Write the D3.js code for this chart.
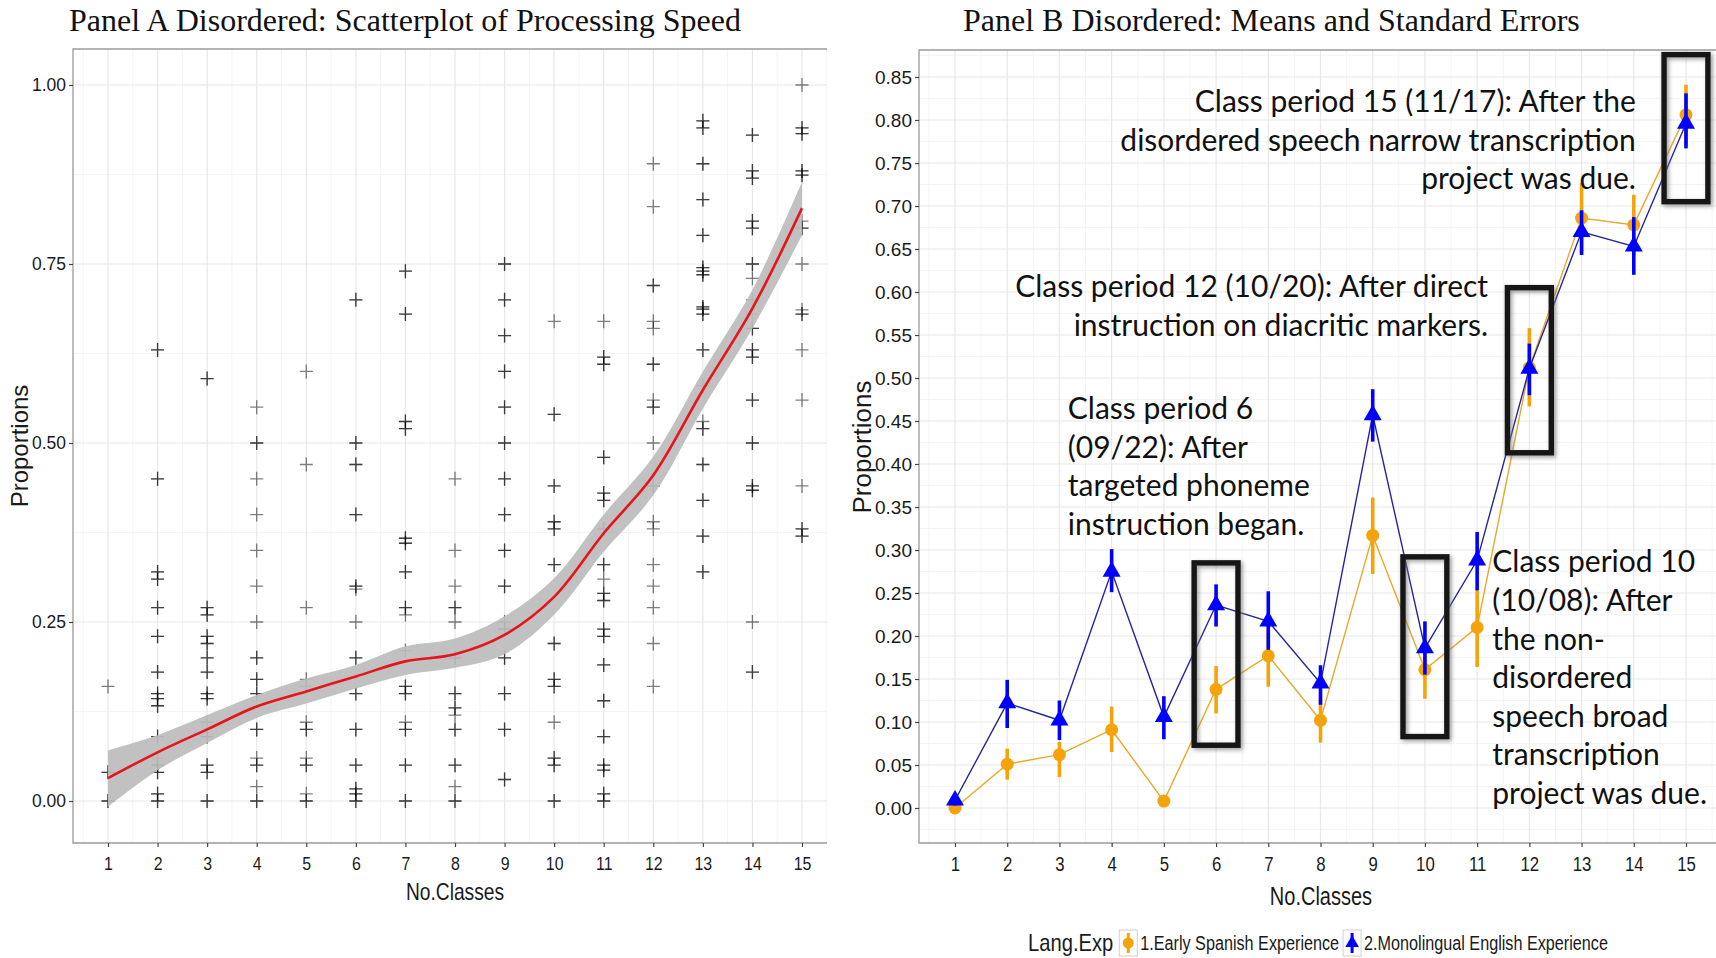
<!DOCTYPE html>
<html>
<head>
<meta charset="utf-8">
<script src="https://cdn.jsdelivr.net/npm/d3@7"></script>
<style>
  body { margin: 0; background: #fff; }
  svg { display: block; }
  .sans { font-family: "Liberation Sans", Arial, sans-serif; }
  .title { font-family: "Liberation Serif", "Times New Roman", serif; }
  .note { font-family: Lato, "Open Sans", sans-serif; }
</style>
</head>
<body>
<svg id="chart" width="1716" height="958"></svg>
<script>
var classes = d3.range(1, 16);

// Panel A: proportions per class, [value, how many students overlap there]
var speedA = [
  [[0.16,1],[0.04,2],[0,2]],
  [[0.63,2],[0.45,2],[0.32,2],[0.31,2],[0.27,2],[0.23,2],[0.18,2],[0.15,2],[0.143,2],[0.133,2],[0.09,2],[0.06,1],[0.05,2],[0.04,2],[0.01,2],[0,2]],
  [[0.59,2],[0.27,2],[0.26,2],[0.23,2],[0.22,2],[0.20,2],[0.18,2],[0.15,2],[0.143,2],[0.11,1],[0.09,2],[0.05,2],[0.04,2],[0,2]],
  [[0.55,1],[0.50,2],[0.45,1],[0.40,1],[0.35,1],[0.30,1],[0.25,1],[0.20,2],[0.17,2],[0.15,2],[0.10,2],[0.06,1],[0.05,2],[0.02,1],[0,2]],
  [[0.60,1],[0.47,1],[0.27,1],[0.17,1],[0.16,1],[0.11,1],[0.10,2],[0.06,1],[0.05,2],[0.01,1],[0,2]],
  [[0.70,2],[0.50,2],[0.47,2],[0.40,2],[0.30,2],[0.296,1],[0.25,1],[0.20,2],[0.15,2],[0.10,2],[0.05,2],[0.017,2],[0.01,2],[0,2]],
  [[0.74,2],[0.68,2],[0.53,2],[0.52,2],[0.367,2],[0.36,2],[0.32,2],[0.27,2],[0.26,1],[0.21,1],[0.16,2],[0.15,2],[0.11,1],[0.10,2],[0.05,2],[0,2]],
  [[0.45,1],[0.35,1],[0.30,1],[0.27,2],[0.25,1],[0.20,2],[0.15,2],[0.13,2],[0.12,1],[0.10,2],[0.05,2],[0.02,1],[0,2]],
  [[0.75,2],[0.70,2],[0.65,2],[0.60,2],[0.55,2],[0.50,2],[0.45,2],[0.40,2],[0.35,2],[0.30,2],[0.25,1],[0.24,2],[0.20,2],[0.15,2],[0.10,2],[0.03,2]],
  [[0.67,1],[0.54,2],[0.44,2],[0.39,2],[0.38,2],[0.33,2],[0.22,2],[0.17,2],[0.16,2],[0.11,1],[0.06,2],[0.05,2],[0,2]],
  [[0.67,1],[0.62,2],[0.61,2],[0.48,2],[0.43,2],[0.42,2],[0.38,2],[0.33,2],[0.31,1],[0.29,2],[0.28,2],[0.24,2],[0.23,2],[0.19,2],[0.14,2],[0.09,2],[0.05,2],[0.043,2],[0.01,2],[0,2]],
  [[0.89,1],[0.83,1],[0.72,2],[0.67,1],[0.66,1],[0.61,2],[0.56,1],[0.55,2],[0.50,1],[0.44,2],[0.39,1],[0.38,1],[0.33,1],[0.30,1],[0.27,1],[0.22,1],[0.16,1]],
  [[0.95,2],[0.94,2],[0.89,2],[0.84,2],[0.79,2],[0.745,2],[0.74,2],[0.735,2],[0.69,2],[0.687,2],[0.68,2],[0.63,2],[0.58,1],[0.53,1],[0.52,2],[0.47,2],[0.42,2],[0.37,2],[0.32,2]],
  [[0.93,2],[0.88,2],[0.87,2],[0.81,2],[0.80,2],[0.75,2],[0.73,1],[0.70,1],[0.68,1],[0.66,2],[0.63,2],[0.62,2],[0.56,2],[0.50,2],[0.44,2],[0.434,2],[0.25,1],[0.18,2]],
  [[1.00,1],[0.94,2],[0.932,2],[0.88,2],[0.874,2],[0.81,1],[0.80,2],[0.75,1],[0.686,1],[0.68,2],[0.63,1],[0.56,1],[0.44,1],[0.38,2],[0.37,2]]
];

// loess fit and its confidence band
var fitMid = [0.032, 0.068, 0.100, 0.132, 0.153, 0.174, 0.195, 0.205, 0.232, 0.285, 0.374, 0.455, 0.574, 0.688, 0.828];
var fitLo  = [-0.008, 0.043, 0.081, 0.116, 0.136, 0.157, 0.176, 0.186, 0.205, 0.260, 0.348, 0.427, 0.548, 0.660, 0.790];
var fitHi  = [0.071, 0.092, 0.120, 0.148, 0.171, 0.190, 0.216, 0.227, 0.258, 0.311, 0.400, 0.481, 0.600, 0.714, 0.865];

// Panel B: means and standard errors
var spanishMean = [0.000, 0.051, 0.062, 0.091, 0.008, 0.138, 0.177, 0.102, 0.317, 0.161, 0.210, 0.512, 0.686, 0.678, 0.806];
var spanishLo   = [-0.004, 0.033, 0.036, 0.065, 0.004, 0.110, 0.141, 0.076, 0.272, 0.127, 0.164, 0.467, 0.645, 0.643, 0.771];
var spanishHi   = [0.004, 0.069, 0.077, 0.118, 0.012, 0.165, 0.214, 0.128, 0.361, 0.195, 0.253, 0.558, 0.727, 0.713, 0.841];
var englishMean = [0.009, 0.122, 0.102, 0.275, 0.106, 0.236, 0.217, 0.145, 0.457, 0.186, 0.288, 0.511, 0.670, 0.653, 0.796];
var englishLo   = [0.003, 0.093, 0.079, 0.251, 0.080, 0.211, 0.184, 0.120, 0.426, 0.155, 0.253, 0.480, 0.643, 0.620, 0.767];
var englishHi   = [0.015, 0.149, 0.125, 0.301, 0.130, 0.260, 0.252, 0.166, 0.487, 0.217, 0.321, 0.540, 0.695, 0.687, 0.831];

var boxClass = [6, 10, 12, 15];
var boxLo = [0.073, 0.083, 0.413, 0.705];
var boxHi = [0.285, 0.292, 0.605, 0.876];

var groups = ["1.Early Spanish Experience", "2.Monolingual English Experience"];
var yTicksA = [0, 0.25, 0.5, 0.75, 1];
var yTicksB = d3.range(0, 18).map(function(i) { return i * 0.05; });

var notes = [
  { x: 14.04, y: 0.809, anchor: "end",   lines: ["Class period 15 (11/17): After the", "disordered speech narrow transcription", "project was due."] },
  { x: 11.21, y: 0.594, anchor: "end",   lines: ["Class period 12 (10/20): After direct", "instruction on diacritic markers."] },
  { x: 3.16,  y: 0.452, anchor: "start", lines: ["Class period 6", "(09/22): After", "targeted phoneme", "instruction began."] },
  { x: 11.29, y: 0.274, anchor: "start", lines: ["Class period 10", "(10/08): After", "the non-", "disordered", "speech broad", "transcription", "project was due."] }
];

var orange = "#f4a30b", orangeLine = "#e6a92c", blue = "#0000ff", blueLine = "#25259a";

var svg = d3.select("#chart");

// squeeze text horizontally (the original uses a condensed face)
function condense(sel, f) {
  sel.each(function() {
    var w = this.getComputedTextLength();
    d3.select(this).attr("textLength", w * f).attr("lengthAdjust", "spacingAndGlyphs");
  });
  return sel;
}

var defs = svg.append("defs");
var sh = defs.append("filter").attr("id", "shadow").attr("x", "-30%").attr("y", "-30%").attr("width", "160%").attr("height", "160%");
sh.append("feDropShadow").attr("dx", 2).attr("dy", 2).attr("stdDeviation", 2).attr("flood-color", "#777").attr("flood-opacity", 0.7);

var xA = d3.scaleLinear().domain([1, 15]).range([108, 802]);
var yA = d3.scaleLinear().domain([0, 1]).range([801, 85]);
var boxA = { l: 73, r: 827, t: 49, b: 843 };

var xB = d3.scaleLinear().domain([1, 15]).range([955, 1686]);
var yB = d3.scaleLinear().domain([0, 0.85]).range([808, 77]);
var boxB = { l: 919, r: 1716, t: 50, b: 843 };

function drawFrame(x, y, box, yTicks, step, tickFont, xFont) {
  var g = svg.append("g");
  var inY = function(v) { var p = y(v); return p >= box.t && p <= box.b; };
  var inX = function(v) { var p = x(v); return p >= box.l && p <= box.r; };
  // minor grid
  var minorY = d3.range(-2, yTicks.length + 1).map(function(i) { return (i + 0.5) * step; }).filter(inY);
  var minorX = d3.range(0, 17).map(function(i) { return i + 0.5; }).filter(inX);
  g.selectAll(".mny").data(minorY).enter().append("line")
    .attr("x1", box.l).attr("x2", box.r).attr("y1", y).attr("y2", y)
    .attr("stroke", "#f4f4f4").attr("stroke-width", 1);
  g.selectAll(".mnx").data(minorX).enter().append("line")
    .attr("x1", x).attr("x2", x).attr("y1", box.t).attr("y2", box.b)
    .attr("stroke", "#f4f4f4").attr("stroke-width", 1);
  g.selectAll(".mjy").data(yTicks).enter().append("line")
    .attr("x1", box.l).attr("x2", box.r).attr("y1", y).attr("y2", y)
    .attr("stroke", "#e8e8e8").attr("stroke-width", 1.2);
  g.selectAll(".mjx").data(classes).enter().append("line")
    .attr("x1", x).attr("x2", x).attr("y1", box.t).attr("y2", box.b)
    .attr("stroke", "#e8e8e8").attr("stroke-width", 1.2);

  // border
  g.append("path")
    .attr("d", "M" + box.r + "," + box.t + "H" + box.l + "V" + box.b + "H" + box.r)
    .attr("fill", "none").attr("stroke", "#9a9a9a").attr("stroke-width", 1.3);

  var ax = g.append("g").attr("transform", "translate(0," + box.b + ")")
    .call(d3.axisBottom(x).tickValues(classes).tickFormat(d3.format("d")).tickSize(4).tickPadding(10));
  var ay = g.append("g").attr("transform", "translate(" + box.l + ",0)")
    .call(d3.axisLeft(y).tickValues(yTicks).tickFormat(d3.format(".2f")).tickSize(4).tickPadding(3));
  [ax, ay].forEach(function(a) {
    a.select(".domain").remove();
    a.selectAll(".tick line").attr("stroke", "#444").attr("stroke-width", 1.2);
    a.selectAll("text").attr("class", "sans").attr("fill", "#1a1a1a").attr("font-family", null)
      .style("font-size", tickFont + "px");
  });
  ax.selectAll("text").style("font-size", xFont + "px");
  condense(ax.selectAll("text"), 0.86);
  return g;
}

// ---------- Panel A ----------
drawFrame(xA, yA, boxA, yTicksA, 0.25, 17.5, 18.5);

var pA = svg.append("g");
var band = d3.area().x(function(d, i) { return xA(classes[i]); })
  .y0(function(d, i) { return yA(fitLo[i]); })
  .y1(function(d, i) { return yA(fitHi[i]); })
  .curve(d3.curveCatmullRom);

var marks = [];
speedA.forEach(function(vals, i) {
  vals.forEach(function(p) {
    for (var k = 0; k < p[1]; k++) marks.push({ c: classes[i], v: p[0] });
  });
});
pA.selectAll(".pt").data(marks).enter().append("path")
  .attr("transform", function(d) { return "translate(" + xA(d.c) + "," + yA(d.v) + ")"; })
  .attr("d", "M-6.5,0H6.5M0,-7V7")
  .attr("stroke", "#000").attr("stroke-opacity", 0.5).attr("stroke-width", 1.3).attr("fill", "none");

pA.append("path").datum(fitMid).attr("d", band).attr("fill", "#bcbcbc").attr("fill-opacity", 0.92);
pA.append("path").datum(fitMid)
  .attr("d", d3.line().x(function(d, i) { return xA(classes[i]); }).y(function(d) { return yA(d); }).curve(d3.curveCatmullRom))
  .attr("fill", "none").attr("stroke", "#e8141b").attr("stroke-width", 2.6);

svg.append("text").attr("class", "title").attr("x", 69).attr("y", 31)
  .style("font-size", "32px").attr("fill", "#111")
  .text("Panel A Disordered: Scatterplot of Processing Speed");
condense(svg.append("text").attr("class", "sans").attr("x", (boxA.l + boxA.r) / 2 + 5).attr("y", 900)
  .attr("text-anchor", "middle").style("font-size", "24px").attr("fill", "#1a1a1a").text("No.Classes"), 0.8);
svg.append("text").attr("class", "sans").attr("transform", "translate(28,446) rotate(-90)")
  .attr("text-anchor", "middle").style("font-size", "24px").attr("fill", "#1a1a1a").text("Proportions");

// ---------- Panel B ----------
drawFrame(xB, yB, boxB, yTicksB, 0.05, 19, 19.5);

var pB = svg.append("g");
function series(mean, lo, hi, lineCol, col) {
  var line = d3.line().x(function(d, i) { return xB(classes[i]); }).y(function(d) { return yB(d); });
  var g = pB.append("g");
  g.append("path").datum(mean).attr("d", line).attr("fill", "none").attr("stroke", lineCol).attr("stroke-width", 1.4);
  g.selectAll(".eb").data(mean).enter().append("line")
    .attr("x1", function(d, i) { return xB(classes[i]); })
    .attr("x2", function(d, i) { return xB(classes[i]); })
    .attr("y1", function(d, i) { return yB(lo[i]); })
    .attr("y2", function(d, i) { return yB(hi[i]); })
    .attr("stroke", col).attr("stroke-width", 3.6);
  return g;
}
var gS = series(spanishMean, spanishLo, spanishHi, orangeLine, orange);
var gE = series(englishMean, englishLo, englishHi, blueLine, blue);
gS.selectAll(".pt").data(spanishMean).enter().append("circle")
  .attr("cx", function(d, i) { return xB(classes[i]); }).attr("cy", function(d) { return yB(d); })
  .attr("r", 6.5).attr("fill", orange);
gE.selectAll(".pt").data(englishMean).enter().append("path")
  .attr("transform", function(d, i) { return "translate(" + xB(classes[i]) + "," + yB(d) + ")"; })
  .attr("d", d3.symbol().type(d3.symbolTriangle).size(140)).attr("fill", blue);

// highlight boxes
pB.selectAll(".hb").data(boxClass).enter().append("rect")
  .attr("x", function(d) { return xB(d - 0.42); })
  .attr("width", function() { return xB(1.84) - xB(1); })
  .attr("y", function(d, i) { return yB(boxHi[i]); })
  .attr("height", function(d, i) { return yB(boxLo[i]) - yB(boxHi[i]); })
  .attr("fill", "none").attr("stroke", "#161616").attr("stroke-width", 5.5)
  .attr("filter", "url(#shadow)");

// annotations
notes.forEach(function(n) {
  var t = svg.append("text").attr("class", "note").attr("text-anchor", n.anchor)
    .style("font-size", "30px").attr("fill", "#111");
  n.lines.forEach(function(s, k) {
    t.append("tspan").attr("x", xB(n.x)).attr("y", yB(n.y) + k * 38.6).text(s);
  });
});

svg.append("text").attr("class", "title").attr("x", 963).attr("y", 31)
  .style("font-size", "32px").attr("fill", "#111")
  .text("Panel B Disordered: Means and Standard Errors");
condense(svg.append("text").attr("class", "sans").attr("x", 1321).attr("y", 905)
  .attr("text-anchor", "middle").style("font-size", "25px").attr("fill", "#1a1a1a").text("No.Classes"), 0.8);
svg.append("text").attr("class", "sans").attr("transform", "translate(871,447) rotate(-90)")
  .attr("text-anchor", "middle").style("font-size", "26px").attr("fill", "#1a1a1a").text("Proportions");

// legend
var lg = svg.append("g");
var lt = condense(lg.append("text").attr("class", "sans").attr("y", 951).style("font-size", "24px")
  .attr("fill", "#1a1a1a").text("Lang.Exp"), 0.84);
var cx = +lt.attr("textLength") + 6;
var keyCols = [orange, blue];
groups.forEach(function(name, i) {
  var k = lg.append("g").attr("transform", "translate(" + cx + ",930)");
  k.append("rect").attr("width", 18).attr("height", 26).attr("fill", "#fff").attr("stroke", "#d0d0d0");
  k.append("line").attr("x1", 9).attr("x2", 9).attr("y1", 3).attr("y2", 23).attr("stroke", keyCols[i]).attr("stroke-width", 3);
  if (i === 0) k.append("circle").attr("cx", 9).attr("cy", 13).attr("r", 5.5).attr("fill", orange);
  else k.append("path").attr("transform", "translate(9,13)").attr("d", d3.symbol().type(d3.symbolTriangle).size(80)).attr("fill", blue);
  cx += 21;
  var tx = condense(lg.append("text").attr("class", "sans").attr("x", cx).attr("y", 950)
    .style("font-size", "19.5px").attr("fill", "#1a1a1a").text(name), 0.83);
  cx += +tx.attr("textLength") + 4;
});
lg.attr("transform", "translate(" + (1320 - cx / 2) + ",0)");
</script>
</body>
</html>
